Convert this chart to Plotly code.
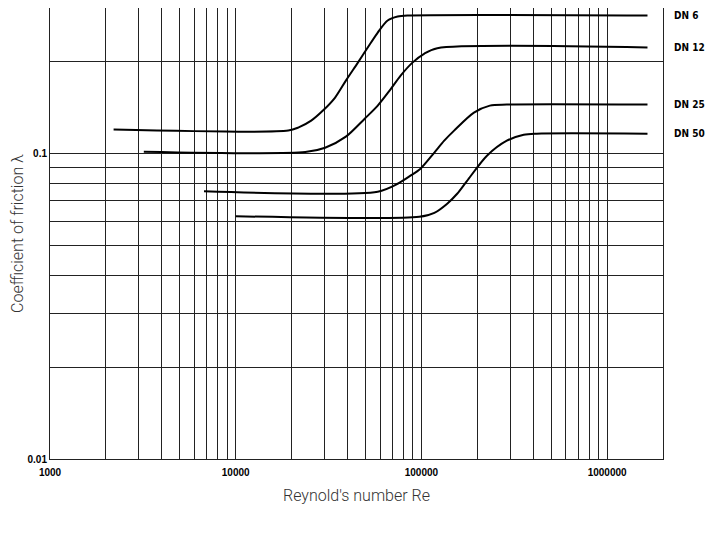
import numpy as np
import plotly.graph_objects as go

# Curves (Reynold's number, friction coefficient)
dn6_re = [2200, 19200, 21700, 25500, 29500, 34300, 39200, 45500, 51400, 58200, 65800, 74500, 84100, 1650000]
dn6_lam = [0.120, 0.119, 0.1217, 0.1283, 0.1384, 0.1527, 0.1735, 0.1987, 0.2226, 0.2493, 0.2729, 0.2813, 0.2835, 0.2835]

dn12_re = [3200, 23700, 30300, 39200, 49500, 58200, 67400, 77300, 89500, 103800, 121800, 1650000]
dn12_lam = [0.1015, 0.1012, 0.1046, 0.1137, 0.1302, 0.1437, 0.1609, 0.1802, 0.1987, 0.2128, 0.2215, 0.2226]

dn25_re = [6750, 58200, 74500, 87300, 98900, 117400, 132700, 150000, 191800, 233700, 288400, 1650000]
dn25_lam = [0.0753, 0.0751, 0.0797, 0.0847, 0.0893, 0.1008, 0.1103, 0.119, 0.1363, 0.1437, 0.1448, 0.1448]

dn50_re = [10000, 97500, 117400, 137700, 155800, 176200, 225400, 288400, 355600, 417000, 1650000]
dn50_lam = [0.0624, 0.0621, 0.0640, 0.0686, 0.0739, 0.0815, 0.0985, 0.1103, 0.1154, 0.1163, 0.1163]

curve_names = ['DN 6', 'DN 12', 'DN 25', 'DN 50']

# grid lines / ticks
x_grid = [m * 10 ** e for e in range(3, 6) for m in range(1, 10)] + [1000000, 2000000]
x_labels = ['1000', '10000', '100000', '1000000']
y_grid = [m / 100 for m in range(1, 10)] + [0.1, 0.2, 0.3]
y_labels = ['0.01', '0.1']

x_text = [str(int(v)) if str(int(v)) in x_labels else '' for v in x_grid]
y_text = [f'{v:g}' if f'{v:g}' in y_labels else '' for v in y_grid]

fig = go.Figure()
series = [(dn6_re, dn6_lam), (dn12_re, dn12_lam), (dn25_re, dn25_lam), (dn50_re, dn50_lam)]
for name, (re_vals, lam_vals) in zip(curve_names, series):
    fig.add_trace(go.Scatter(
        x=re_vals, y=lam_vals, mode='lines', name=name,
        line=dict(color='black', width=2, shape='spline', smoothing=0.8),
        showlegend=False,
    ))
    fig.add_annotation(
        x=1.014, xref='paper', y=np.log10(lam_vals[-1]), yref='y',
        text=name, showarrow=False, xanchor='left', yanchor='middle',
        font=dict(family='DejaVu Sans Condensed', size=10, color='black', weight='bold'),
    )

tick_font = dict(family='Liberation Sans', size=10, color='black', weight='bold')

fig.update_xaxes(
    type='log', range=[3, np.log10(2000000)],
    tickmode='array', tickvals=x_grid, ticktext=x_text,
    showgrid=True, gridcolor='#222', gridwidth=1,
    showline=True, linecolor='#222', linewidth=1, mirror=True,
    ticks='', ticklabelstandoff=4, tickfont=tick_font,
    title=dict(text="Reynold's number Re", standoff=12,
               font=dict(family='Roboto', size=16, color='#333', weight=300)),
    zeroline=False, automargin=False,
)
fig.update_yaxes(
    type='log', range=[-2, np.log10(0.3)],
    tickmode='array', tickvals=y_grid, ticktext=y_text,
    showgrid=True, gridcolor='#222', gridwidth=1,
    showline=True, linecolor='#222', linewidth=1, mirror=True,
    ticks='', tickfont=tick_font,
    title=dict(text='Coefficient of friction λ', standoff=2,
               font=dict(family='Roboto', size=16, color='#333', weight=300)),
    zeroline=False, automargin=False,
)

# the page adds an 8px body margin, so the figure is a bit smaller than the window
fig.update_layout(
    width=700, height=520,
    margin=dict(l=42, r=45, t=0, b=69),
    paper_bgcolor='white', plot_bgcolor='white',
)

fig.write_html('out.html')
